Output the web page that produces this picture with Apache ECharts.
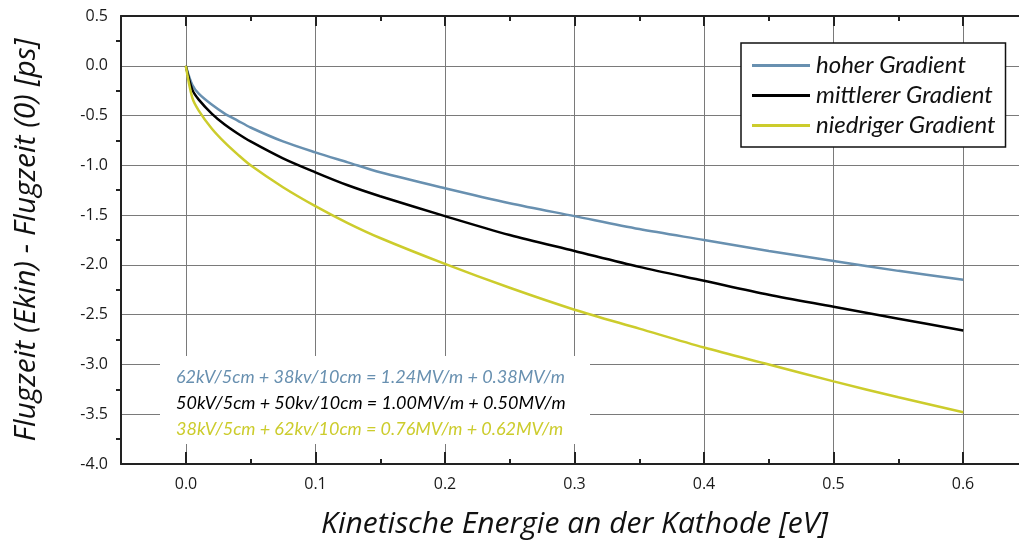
<!DOCTYPE html>
<html>
<head>
<meta charset="utf-8">
<script src="https://cdn.jsdelivr.net/npm/echarts@6/dist/echarts.min.js"></script>
<style>html,body{margin:0;padding:0;background:#fff}#c{width:1019px;height:549px}</style>
</head>
<body>
<div id="c"></div>
<script>
const energy = [0, 0.005, 0.01, 0.02, 0.03, 0.04, 0.05, 0.075, 0.1, 0.125, 0.15, 0.2, 0.25, 0.3, 0.35, 0.4, 0.45, 0.5, 0.55, 0.6];
const hoher = [0, -0.19, -0.28, -0.39, -0.48, -0.55, -0.62, -0.76, -0.87, -0.97, -1.07, -1.23, -1.38, -1.51, -1.64, -1.75, -1.86, -1.96, -2.06, -2.15];
const mittlerer = [0, -0.24, -0.34, -0.48, -0.59, -0.68, -0.76, -0.93, -1.07, -1.20, -1.31, -1.51, -1.70, -1.86, -2.02, -2.16, -2.30, -2.42, -2.54, -2.66];
const niedriger = [0, -0.32, -0.45, -0.63, -0.77, -0.89, -1.00, -1.22, -1.41, -1.58, -1.73, -1.99, -2.23, -2.45, -2.64, -2.83, -3.00, -3.17, -3.33, -3.48];
const seriesNames = ['hoher Gradient', 'mittlerer Gradient', 'niedriger Gradient'];
const annotations = [
  '62kV/5cm + 38kv/10cm = 1.24MV/m + 0.38MV/m',
  '50kV/5cm + 50kv/10cm = 1.00MV/m + 0.50MV/m',
  '38kV/5cm + 62kv/10cm = 0.76MV/m + 0.62MV/m'
];
const colors = ['#6890b0', '#000000', '#cccc2c'];
const FONT = 'Lato';
const TITLE_FONT = 'Open Sans';

const pairs = arr => energy.map((e, i) => [e, arr[i]]);
const chart = echarts.init(document.getElementById('c'));
const gridTop = 16, gridH = 448;
chart.setOption({
  animation: false,
  grid: [
    {left: 121, top: gridTop, width: 907, height: gridH, outerBoundsMode: 'none', containLabel: false},
    {left: 186, top: gridTop, width: 777, height: gridH, outerBoundsMode: 'none', containLabel: false}
  ],
  xAxis: [
    {gridIndex: 0, type: 'value', min: -0.05, max: 0.65, position: 'bottom',
     name: 'Kinetische Energie an der Kathode [eV]', nameLocation: 'middle', nameGap: 45,
     nameTextStyle: {fontFamily: TITLE_FONT, fontStyle: 'italic', fontSize: 30, color: '#111'},
     axisLine: {show: true, onZero: false, lineStyle: {color: '#222', width: 2}},
     axisTick: {show: false}, axisLabel: {show: false}, splitLine: {show: false}},
    {gridIndex: 0, type: 'value', min: -0.05, max: 0.65, position: 'top',
     axisLine: {show: true, onZero: false, lineStyle: {color: '#222', width: 2}},
     axisTick: {show: false}, axisLabel: {show: false}, splitLine: {show: false}},
    {gridIndex: 1, type: 'value', min: 0, max: 0.6, interval: 0.1, position: 'bottom',
     axisLine: {show: false, onZero: false},
     axisTick: {show: true, inside: true, length: 12, lineStyle: {color: '#222', width: 2}},
     minorTick: {show: true, splitNumber: 2, length: 5, lineStyle: {color: '#222', width: 2}},
     axisLabel: {show: true, margin: 12, fontFamily: 'Open Sans', fontSize: 16, color: '#1a1a1a',
                 formatter: v => v.toFixed(1)},
     splitLine: {show: true, lineStyle: {color: '#7a7a7a', width: 1}}},
    {gridIndex: 1, type: 'value', min: 0, max: 0.6, interval: 0.1, position: 'top',
     axisLine: {show: false, onZero: false},
     axisTick: {show: true, inside: true, length: 10, lineStyle: {color: '#222', width: 2}},
     minorTick: {show: true, splitNumber: 2, length: 5, lineStyle: {color: '#222', width: 2}},
     axisLabel: {show: false}, splitLine: {show: false}}
  ],
  yAxis: [
    {gridIndex: 0, type: 'value', min: -4, max: 0.5, interval: 0.5,
     name: 'Flugzeit (Ekin) - Flugzeit (0) [ps]', nameLocation: 'middle', nameGap: 80,
     nameTextStyle: {fontFamily: TITLE_FONT, fontStyle: 'italic', fontSize: 30, color: '#111'},
     axisLine: {show: true, onZero: false, lineStyle: {color: '#222', width: 2}},
     axisTick: {show: false},
     minorTick: {show: true, splitNumber: 2, length: 5, lineStyle: {color: '#222', width: 2}},
     axisLabel: {show: true, margin: 13, fontFamily: 'Open Sans', fontSize: 16, color: '#1a1a1a',
                 formatter: v => v.toFixed(1)},
     splitLine: {show: true, lineStyle: {color: '#7a7a7a', width: 1}}},
    {gridIndex: 1, type: 'value', min: -4, max: 0.5, interval: 0.5, show: false,
     axisLine: {show: false, onZero: false}}
  ],
  legend: {
    show: true, orient: 'vertical', left: 741, top: 43,
    backgroundColor: '#fff', borderColor: '#111', borderWidth: 1.5,
    padding: [9, 10, 8, 11], itemGap: 3,
    icon: 'rect', itemWidth: 58, itemHeight: 3,
    textStyle: {fontFamily: FONT, fontStyle: 'italic', fontSize: 24, lineHeight: 27, color: '#111', padding: [0, 0, 0, 1]},
    data: seriesNames
  },
  series: [hoher, mittlerer, niedriger].map((arr, i) => ({
    name: seriesNames[i], type: 'line', xAxisIndex: 0, yAxisIndex: 0,
    data: pairs(arr), smooth: 0.3, showSymbol: false, symbol: 'none',
    lineStyle: {color: colors[i], width: 2.5}, itemStyle: {color: colors[i]}, z: 5
  })),
  graphic: [
    {type: 'rect', x: 160, y: 356, shape: {width: 430, height: 88}, style: {fill: '#fff'}, z: 10},
    ...annotations.map((t, i) => ({
      type: 'text', x: 176, y: 377 + i * 26, z: 11,
      style: {text: t, fill: colors[i], font: 'italic 18px Lato', verticalAlign: 'middle'}
    }))
  ]
});
</script>
</body>
</html>
